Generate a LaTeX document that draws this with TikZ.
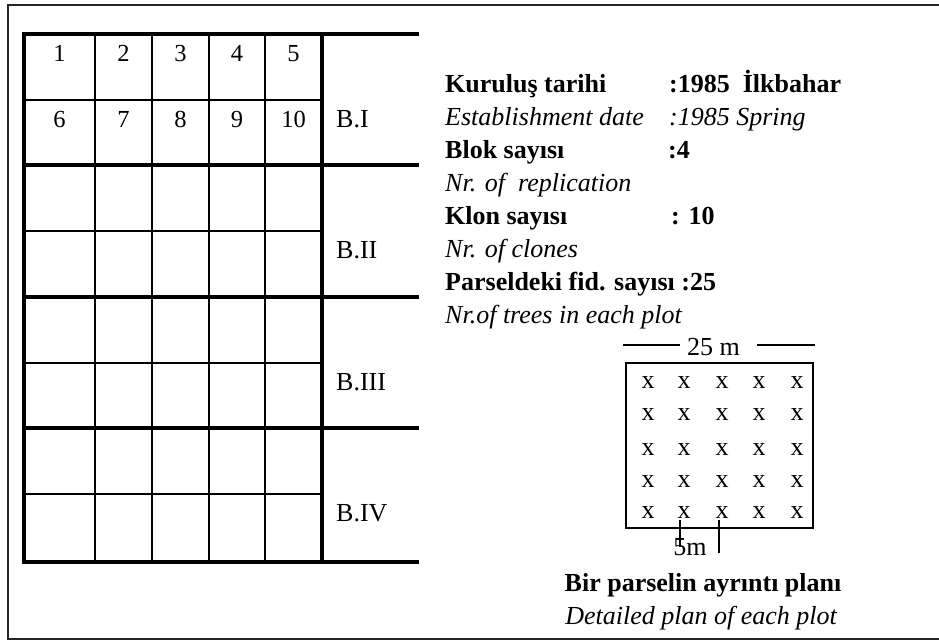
\documentclass[tikz,border=0pt]{standalone}
\usepackage{fontspec}
\setmainfont{Liberation Serif}
\usetikzlibrary{positioning}

\begin{document}
\begin{tikzpicture}[
    x=1pt, y=-1pt,
    font=\fontsize{26}{32}\selectfont,
    frameline/.style ={draw=black!85, line width=2.5pt},
    blockline/.style ={line width=4pt, line cap=rect},
    cellline/.style  ={line width=2pt},
    plotline/.style  ={line width=2pt},
    num/.style       ={anchor=base, inner sep=0pt},
    cellnum/.style   ={num, font=\fontsize{24.5}{30}\selectfont},
    blabel/.style    ={anchor=base west, inner sep=0pt},
    info/.style      ={anchor=base west, inner sep=0pt},
    tree/.style      ={anchor=center, inner sep=0pt}
]
\useasboundingbox (0,0) rectangle (939,641);

% Outer frame (open on the right)
\draw[frameline] (939,5) -- (8,5) -- (8,639) -- (939,639);

% --- Block grid ---
\foreach \x in {95,152,209,265}
    \draw[cellline] (\x,34) -- (\x,562);
\foreach \y in {100,231,363,494}
    \draw[cellline] (24,\y) -- (322,\y);
\draw[blockline] (417,34) -- (24,34) -- (24,562) -- (417,562);
\draw[blockline] (322,34) -- (322,562);
\foreach \y in {165,297,428}
    \draw[blockline] (24,\y) -- (417,\y);

% clone numbers
\foreach \cx [count=\i] in {59.5,123.5,180.5,237,293.5} {
    \pgfmathtruncatemacro\j{\i+5}
    \node[cellnum] (n\i) at (\cx,61)  {\i};
    \node[cellnum] (n\j) at (\cx,127) {\j};
}

% block names
\node[blabel] (b1) at (336,127) {B.I};
\node[blabel] (b2) at (336,258) {B.II};
\node[blabel] (b3) at (336,390) {B.III};
\node[blabel] (b4) at (336,521) {B.IV};

% --- Info text ---
\node[info] (kur)   at (445,92.5)  {\bfseries Kuruluş tarihi};
\node[info] (kurv)  at (669,92.5)  {\bfseries :1985\ \ İlkbahar};
\node[info] (est)   at (445,125.5) {\itshape Establishment date};
\node[info] (estv)  at (669,125.5) {\itshape :1985 Spring};
\node[info] (blok)  at (445,158.5) {\bfseries Blok sayısı};
\node[info] (blokv) at (668,158.5) {\bfseries :4};
\node[info] (rep)   at (445,191.5) {\itshape Nr. of\ \ replication};
\node[info] (klon)  at (445,224.5) {\bfseries Klon sayısı};
\node[info] (klonv) at (671,224.5) {\bfseries : 10};
\node[info] (clo)   at (445,257.5) {\itshape Nr. of clones};
\node[info] (fid)   at (445,290.5) {\bfseries Parseldeki fid. sayısı :25};
\node[info] (tre)   at (445,323.5) {\itshape Nr.of trees in each plot};

% --- Plot detail ---
\node[num] (w25) at (713.5,355) {25 m};
\coordinate (dimL) at (623,345);
\coordinate (dimR) at (815,345);
\draw[plotline] (dimL) -- ([xshift=-7pt]w25.west |- dimL);
\draw[plotline] ([xshift=17pt]w25.east |- dimR) -- (dimR);

\draw[plotline] (626,363) rectangle (813,528);
\foreach \cx in {648,684,722,759,797}
    \foreach \ry in {383,415,450,482,513}
        \node[tree] at (\cx,\ry) {x};

% 5 m spacing ticks
\draw[plotline] (680,520) -- (680,547);
\draw[plotline] (719,520) -- (719,553);
\node[num] (w5) at (690,555) {5m};

% caption
\node[num] (captr) at (703,591) {\bfseries Bir parselin ayrıntı planı};
\node[num] (capen) at (701,624) {\itshape Detailed plan of each plot};

\end{tikzpicture}
\end{document}
